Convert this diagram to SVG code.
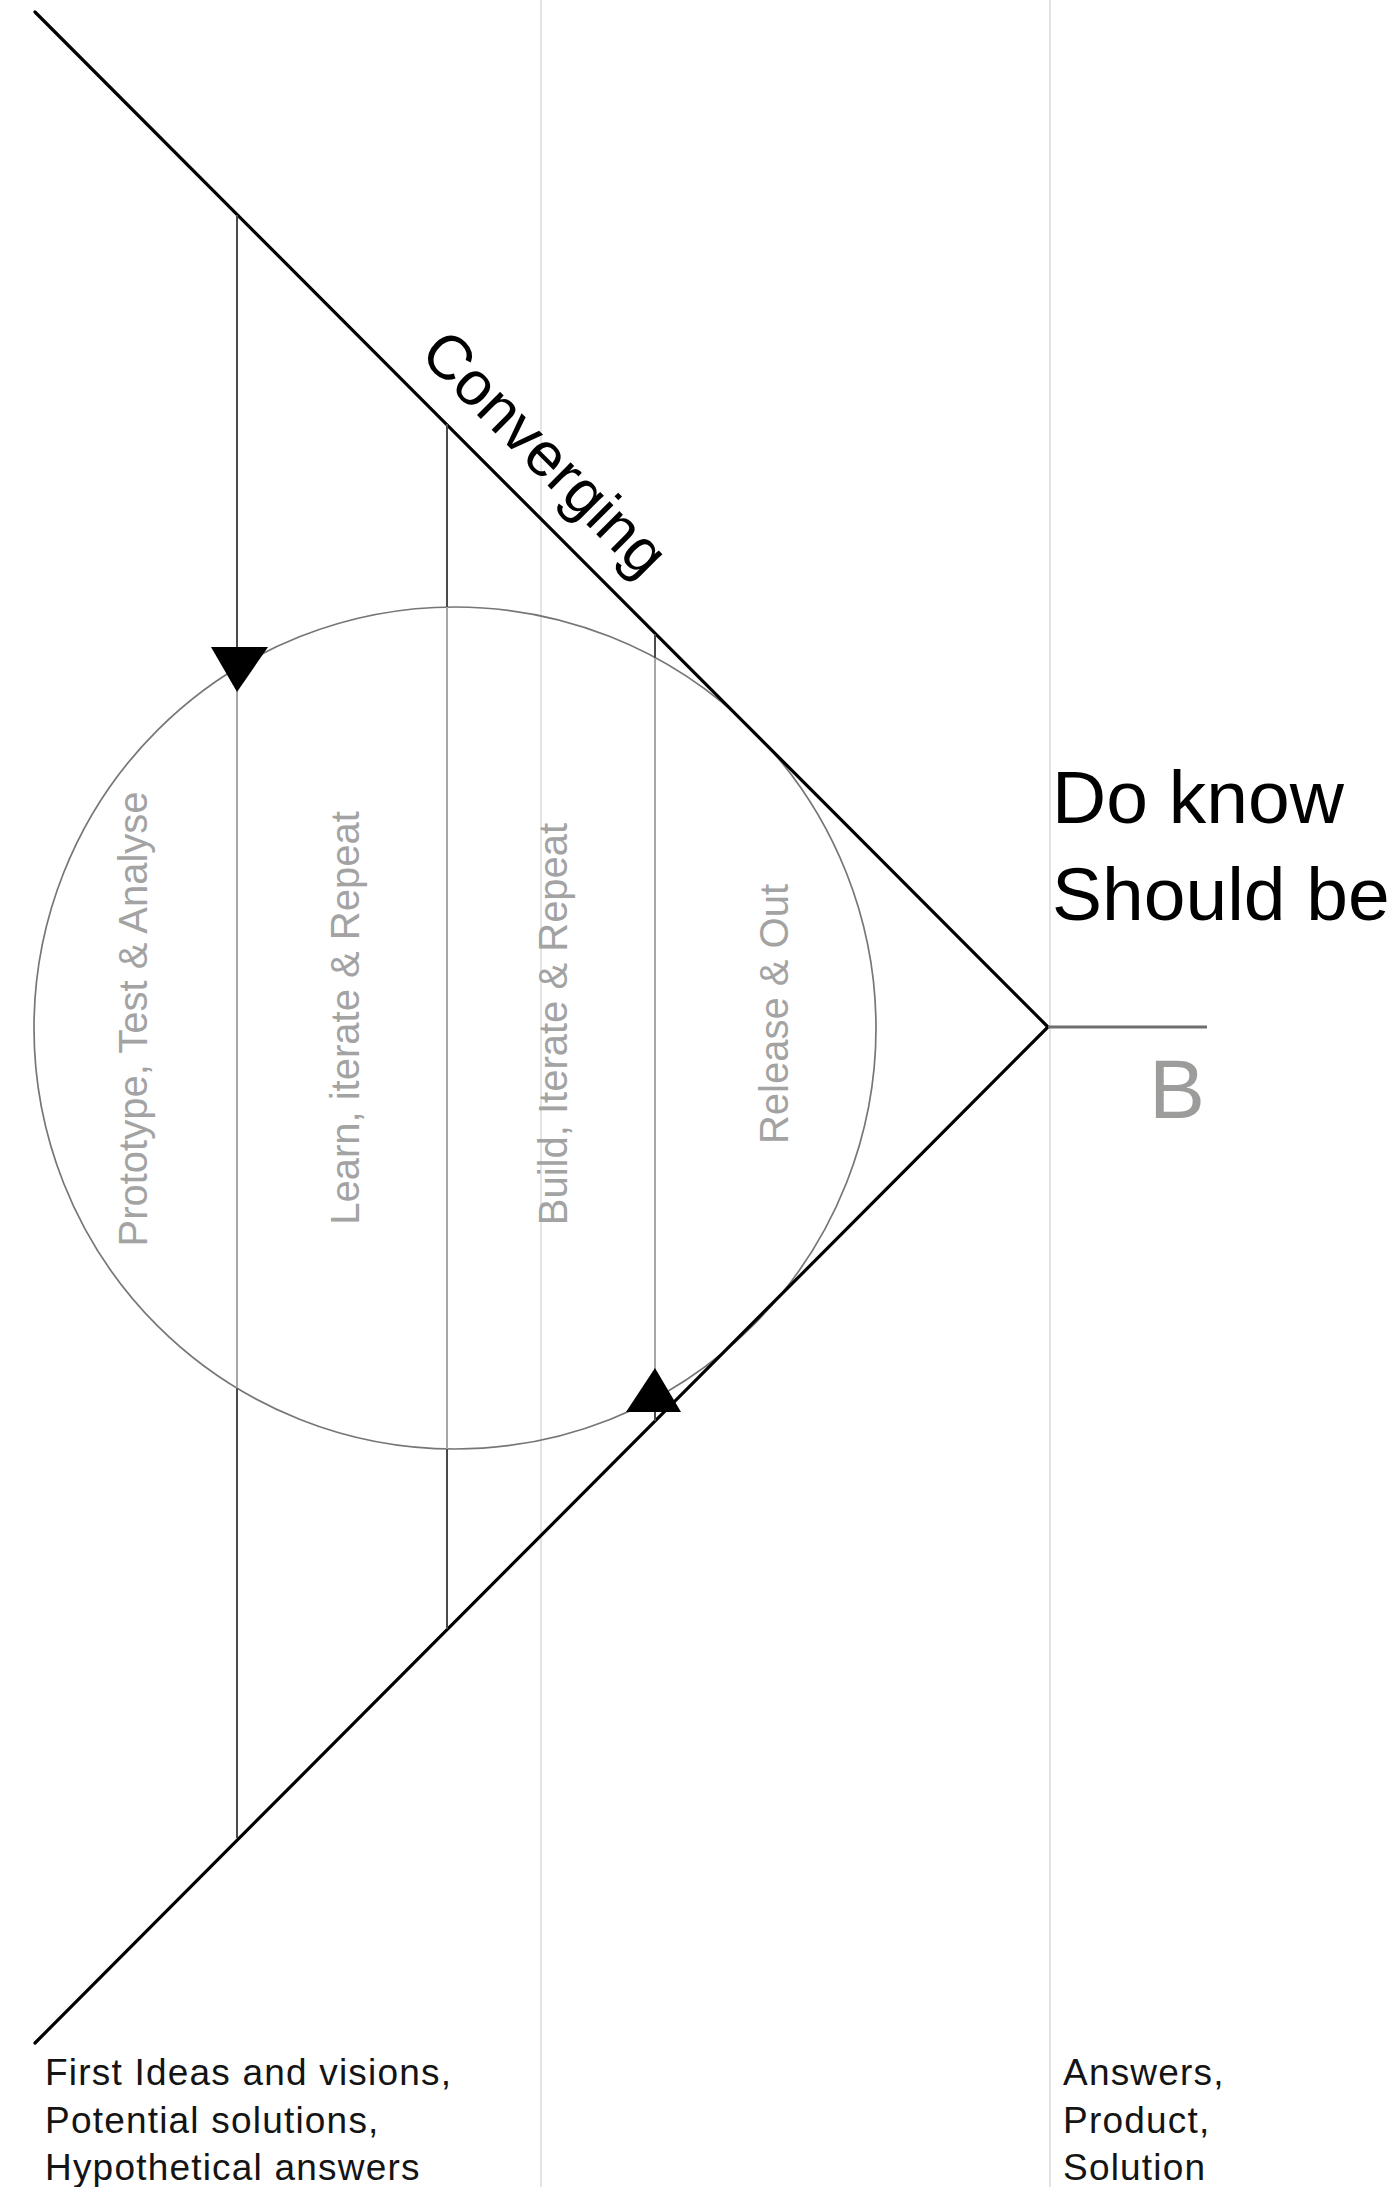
<svg xmlns="http://www.w3.org/2000/svg" width="1398" height="2187" viewBox="0 0 1398 2187">
  <style>
    .guide { stroke: #e4e4e4; stroke-width: 2; fill: none; }
    .funnel { stroke: #000; stroke-width: 3.2; fill: none; stroke-linecap: round; }
    .stage-out { stroke: #4a4a4a; stroke-width: 2; fill: none; }
    .stage-in { stroke: #a6a6a6; stroke-width: 2; fill: none; }
    .loop { stroke: #767676; stroke-width: 1.7; fill: none; }
    .arrow { fill: #000; }
    .phase { font-family: "Liberation Sans", Arial, sans-serif; font-size: 40px; fill: #a3a3a3; text-anchor: middle; }
    .note { font-family: "Liberation Sans", Arial, sans-serif; font-size: 37px; fill: #141414; letter-spacing: 1.2px; }
    .goal { font-family: "Liberation Sans", Arial, sans-serif; font-size: 75px; fill: #000; }
  </style>

  <rect width="1398" height="2187" fill="#fff"/>

  <!-- faint column guides -->
  <g id="guides">
    <line class="guide" x1="541" y1="0" x2="541" y2="2187"/>
    <line class="guide" x1="1050" y1="0" x2="1050" y2="2187"/>
  </g>

  <!-- iteration loop -->
  <g id="loop">
    <circle class="loop" cx="455" cy="1028" r="421"/>
  </g>

  <g id="connectors">
    <!-- converging funnel -->
    <path class="funnel" d="M35,12 L1048,1027 L35,2043"/>
    <!-- target line -->
    <line x1="1048" y1="1027" x2="1207" y2="1027" stroke="#6e6e6e" stroke-width="3"/>

    <!-- stage 1 -->
    <line class="stage-out" x1="237" y1="215" x2="237" y2="668"/>
    <line class="stage-in" x1="237" y1="668" x2="237" y2="1388"/>
    <line class="stage-out" x1="237" y1="1388" x2="237" y2="1838"/>
    <!-- stage 2 -->
    <line class="stage-out" x1="447" y1="424" x2="447" y2="607"/>
    <line class="stage-in" x1="447" y1="607" x2="447" y2="1449"/>
    <line class="stage-out" x1="447" y1="1449" x2="447" y2="1629"/>
    <!-- stage 3 -->
    <line class="stage-out" x1="655" y1="634" x2="655" y2="658"/>
    <line class="stage-in" x1="655" y1="658" x2="655" y2="1399"/>
    <line class="stage-out" x1="655" y1="1399" x2="655" y2="1421"/>

    <!-- direction arrows -->
    <polygon class="arrow" points="211,647 268,647 237,692"/>
    <polygon class="arrow" points="626,1412 681,1412 655,1368"/>
  </g>

  <g id="label-converging">
    <text transform="translate(530,468) rotate(45)" font-family="Liberation Sans, Arial, sans-serif" font-size="62" fill="#000" text-anchor="middle">Converging</text>
  </g>

  <g id="phase-prototype">
    <text class="phase" transform="translate(147,1019) rotate(-90)">Prototype, Test &amp; Analyse</text>
  </g>
  <g id="phase-learn">
    <text class="phase" transform="translate(359,1018) rotate(-90)">Learn, iterate &amp; Repeat</text>
  </g>
  <g id="phase-build">
    <text class="phase" transform="translate(567,1024) rotate(-90)">Build, Iterate &amp; Repeat</text>
  </g>
  <g id="phase-release">
    <text class="phase" transform="translate(788,1014) rotate(-90)">Release &amp; Out</text>
  </g>

  <g id="goal">
    <text class="goal" x="1052" y="823">Do know</text>
    <text class="goal" x="1052" y="920">Should be</text>
  </g>

  <g id="point-b">
    <text x="1149" y="1118" font-family="Liberation Sans, Arial, sans-serif" font-size="84" fill="#9c9c9a">B</text>
  </g>

  <g id="start-notes">
    <text class="note" x="45" y="2085">First Ideas and visions,</text>
    <text class="note" x="45" y="2133">Potential solutions,</text>
    <text class="note" x="45" y="2180">Hypothetical answers</text>
  </g>

  <g id="end-notes">
    <text class="note" x="1063" y="2085">Answers,</text>
    <text class="note" x="1063" y="2133">Product,</text>
    <text class="note" x="1063" y="2180">Solution</text>
  </g>
</svg>
